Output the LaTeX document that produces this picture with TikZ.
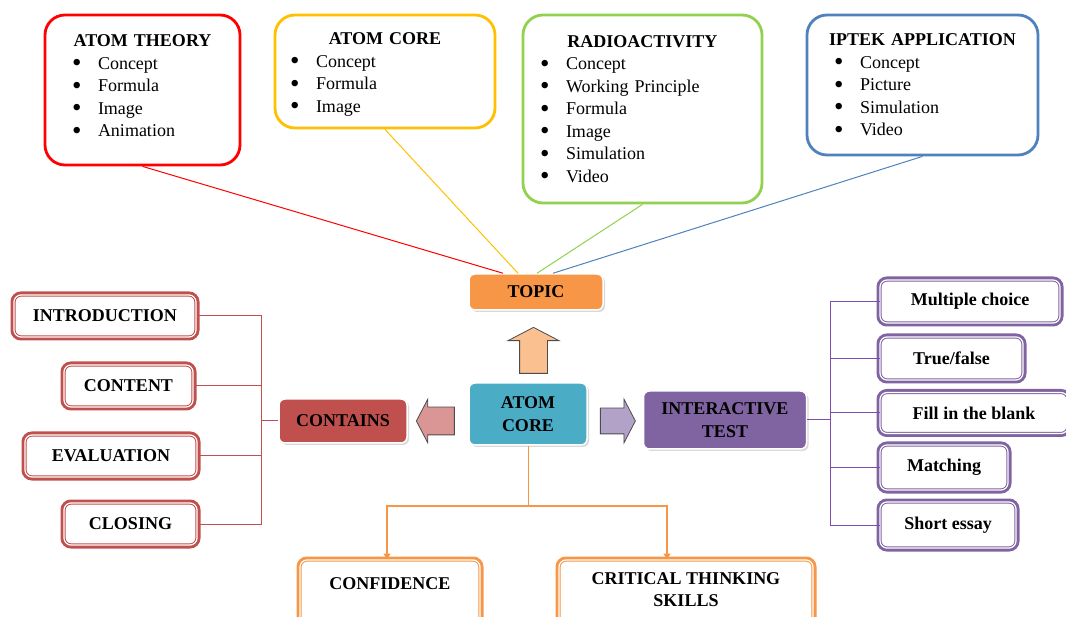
\documentclass[tikz,border=0pt]{standalone}
\usepackage{fontspec}
\setmainfont{Liberation Serif}
\usepackage{tikz}
\usetikzlibrary{shapes.arrows, arrows.meta, positioning, calc, shadows}
\definecolor{TheoryRed}{HTML}{FF0000}
\definecolor{CoreGold}{HTML}{FFC000}
\definecolor{RadioGreen}{HTML}{92D050}
\definecolor{IptekBlue}{HTML}{4F81BD}
\definecolor{TopicOrange}{HTML}{F79646}
\definecolor{UpPeach}{HTML}{FAC090}
\definecolor{CoreTeal}{HTML}{4BACC6}
\definecolor{ContainRed}{HTML}{C0504D}
\definecolor{LeftPink}{HTML}{D99694}
\definecolor{TestPurple}{HTML}{8064A2}
\definecolor{RightLilac}{HTML}{B3A2C7}
\definecolor{TestLine}{HTML}{7E4CB0}
\setlength{\parindent}{0pt}
\newcommand{\mapfont}{\fontsize{18}{22.5}\selectfont}
\newcommand{\itm}[2]{\par\hspace*{#1pt}\makebox[26pt][l]{\raisebox{-2.5pt}[0pt][0pt]{\scalebox{1.5}{\textbullet}}}#2}
\tikzset{
  % Box styles
  topicbox/.style={rectangle, rounded corners=20pt, draw=#1, line width=2.8pt, fill=white, align=left, inner xsep=4pt, font=\mapfont},
  fillbox/.style={rectangle, rounded corners=6pt, draw=white, line width=1.5pt, fill=#1, font=\mapfont\bfseries, align=center, drop shadow={shadow xshift=2pt, shadow yshift=-2pt, opacity=0.3}},
  itembox/.style={rectangle, rounded corners=7pt, preaction={draw=#1, line width=7pt}, draw=#1, line width=1pt, double=white, double distance=1.2pt, fill=white, font=\mapfont\bfseries, align=center},
  % Arrow styles
  fatarrow/.style={single arrow, draw=black!70, line width=0.8pt, fill=#1, single arrow tip angle=125},
  spoke/.style={draw=#1, line width=1pt},
  bus/.style={draw=#1, line width=1pt},
  feed/.style={draw=TopicOrange, line width=1.2pt, -{Triangle[length=6pt, width=7pt]}}
}
\begin{document}
\begin{tikzpicture}[x=1pt, y=-1pt]
  \useasboundingbox (0,0) rectangle (1066,617);
  \clip (0,0) rectangle (1066,617);

  % Topics
  \node[topicbox=TheoryRed, minimum width=195pt, minimum height=150pt, text width=187pt, text depth=98pt] (theory) at (142.5,90) {\centerline{\bfseries ATOM THEORY}\itm{23}{Concept}\itm{23}{Formula}\itm{23}{Image}\itm{23}{Animation}};
  \node[topicbox=CoreGold, minimum width=220pt, minimum height=113pt, text width=212pt, text height=18pt] (coreinfo) at (385,71.5) {\centerline{\bfseries ATOM CORE}\itm{11}{Concept}\itm{11}{Formula}\itm{11}{Image}};
  \node[topicbox=RadioGreen, minimum width=239pt, minimum height=188pt, text width=231pt] (radio) at (642.5,109) {\centerline{\bfseries RADIOACTIVITY}\itm{13}{Concept}\itm{13}{Working Principle}\itm{13}{Formula}\itm{13}{Image}\itm{13}{Simulation}\itm{13}{Video}};
  \node[topicbox=IptekBlue, minimum width=231pt, minimum height=140pt, text width=223pt] (iptek) at (922.5,85) {\centerline{\bfseries IPTEK APPLICATION}\itm{23}{Concept}\itm{23}{Picture}\itm{23}{Simulation}\itm{23}{Video}};

  % Centre
  \node[fillbox=TopicOrange, minimum width=134pt, minimum height=36pt] (topic) at (536,292) {TOPIC};
  \node[fillbox=CoreTeal, minimum width=118pt, minimum height=62pt] (atom) at (528,414) {ATOM\\CORE};
  \node[fillbox=ContainRed, minimum width=128pt, minimum height=44pt] (contains) at (343,421) {CONTAINS};
  \node[fillbox=TestPurple, minimum width=163pt, minimum height=58pt] (test) at (725,420) {INTERACTIVE\\TEST};

  \node[fatarrow=UpPeach, shape border rotate=90, inner sep=13.5pt, minimum height=46pt, single arrow head extend=11.5pt] (uparr) at (533.5,354) {};
  \node[fatarrow=LeftPink, shape border rotate=180, inner sep=13.5pt, minimum height=38pt, single arrow head extend=8pt] (leftarr) at (439,421) {};
  \node[fatarrow=RightLilac, inner sep=12.5pt, minimum height=35pt, single arrow head extend=9pt] (rightarr) at (614.5,421) {};

  % Contents
  \node[itembox=ContainRed, minimum width=182pt, minimum height=42pt] (intro) at (105,316) {INTRODUCTION};
  \node[itembox=ContainRed, minimum width=129pt, minimum height=42pt] (content) at (128.5,386) {CONTENT};
  \node[itembox=ContainRed, minimum width=172pt, minimum height=42pt] (evaluation) at (111,456) {EVALUATION};
  \node[itembox=ContainRed, minimum width=133pt, minimum height=42pt] (closing) at (130.5,524) {CLOSING};

  % Test types
  \node[itembox=TestPurple, minimum width=180pt, minimum height=43pt] (multi) at (970,301.5) {Multiple choice};
  \node[itembox=TestPurple, minimum width=143pt, minimum height=43pt] (truefalse) at (951.5,358.5) {True/false};
  \node[itembox=TestPurple, minimum width=188pt, minimum height=41pt] (fillblank) at (974,413) {Fill in the blank};
  \node[itembox=TestPurple, minimum width=128pt, minimum height=45pt] (matching) at (944,467.5) {Matching};
  \node[itembox=TestPurple, minimum width=136pt, minimum height=46pt] (essay) at (948,525) {Short essay};

  % Outcomes
  \node[itembox=TopicOrange, minimum width=180pt, minimum height=68pt, text depth=20pt] (confidence) at (390,594) {CONFIDENCE};
  \node[itembox=TopicOrange, minimum width=254pt, minimum height=68pt, text depth=9pt] (critical) at (686,594) {CRITICAL THINKING\\SKILLS};

  % Lines
  \draw[spoke=TheoryRed] (theory.south) -- ([xshift=-33pt]topic.north);
  \draw[spoke=CoreGold] (coreinfo.south) -- ([xshift=-18pt]topic.north);
  \draw[spoke=RadioGreen] (radio.south) -- ([xshift=1pt]topic.north);
  \draw[spoke=IptekBlue] (iptek.south) -- ([xshift=17pt]topic.north);

  \coordinate (lbus) at (261,421);
  \draw[bus=ContainRed] (intro.east) -- (intro.east -| lbus) -- (closing.east -| lbus) -- (closing.east);
  \foreach \n in {content, evaluation}
    \draw[bus=ContainRed] (\n.east) -- (\n.east -| lbus);
  \draw[bus=ContainRed] (lbus) -- (contains.west);

  \coordinate (rbus) at (830,420);
  \draw[bus=TestLine] (multi.west) -- (multi.west -| rbus) -- (essay.west -| rbus) -- (essay.west);
  \foreach \n in {truefalse, fillblank, matching}
    \draw[bus=TestLine] (\n.west -| rbus) -- (\n.west);
  \draw[bus=TestLine] (test.east) -- (test.east -| rbus);

  \coordinate (split) at (528,506);
  \draw[spoke=TopicOrange] (atom.south) -- (split);
  \draw[feed] (split) -| ([xshift=-3pt]confidence.north);
  \draw[feed] (split) -| ([xshift=-19pt]critical.north);
\end{tikzpicture}
\end{document}
